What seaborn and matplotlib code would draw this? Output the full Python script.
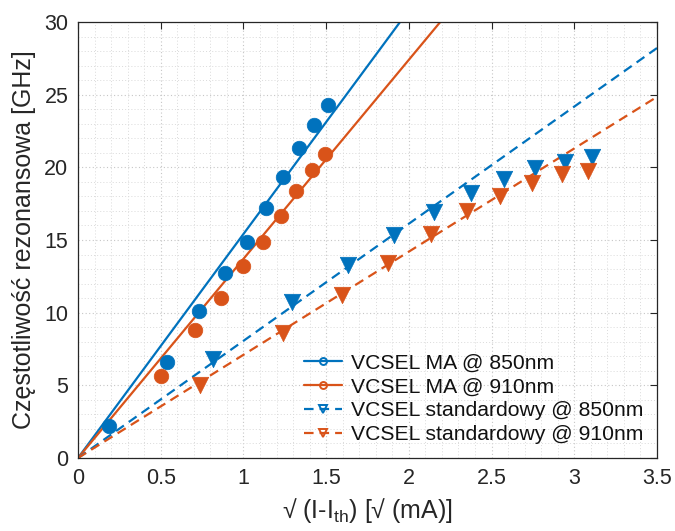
import numpy as np
import pandas as pd
import matplotlib
matplotlib.use("Agg")
import matplotlib.pyplot as plt
from matplotlib.lines import Line2D
from matplotlib.ticker import MultipleLocator
import seaborn as sns

# --- data ---
ma850_x = [0.19, 0.54, 0.73, 0.89, 1.02, 1.135, 1.24, 1.334, 1.427, 1.51]
ma850_y = [2.2, 6.63, 10.1, 12.75, 14.89, 17.2, 19.36, 21.34, 22.9, 24.3]
ma910_x = [0.50, 0.705, 0.866, 1.00, 1.12, 1.227, 1.32, 1.415, 1.495]
ma910_y = [5.67, 8.81, 11.03, 13.21, 14.87, 16.68, 18.4, 19.8, 20.9]
st850_x = [0.814, 1.292, 1.634, 1.913, 2.154, 2.376, 2.578, 2.763, 2.944, 3.106]
st850_y = [6.81, 10.72, 13.28, 15.35, 16.95, 18.22, 19.18, 19.94, 20.4, 20.74]
st910_x = [0.738, 1.241, 1.594, 1.876, 2.132, 2.35, 2.551, 2.743, 2.924, 3.085]
st910_y = [5.02, 8.62, 11.22, 13.44, 15.42, 17.02, 18.03, 18.95, 19.52, 19.75]

# linear fits through origin (slopes)
fit_x = [0.0, 3.5]
fit_ma850 = [0.0, 15.41 * 3.5]
fit_ma910 = [0.0, 13.70 * 3.5]
fit_st850 = [0.0, 8.06 * 3.5]
fit_st910 = [0.0, 7.10 * 3.5]

labels = ["VCSEL MA @ 850nm", "VCSEL MA @ 910nm",
          "VCSEL standardowy @ 850nm", "VCSEL standardowy @ 910nm"]
x_ticks = [0, 0.5, 1, 1.5, 2, 2.5, 3, 3.5]
x_ticklabels = ["0", "0.5", "1", "1.5", "2", "2.5", "3", "3.5"]
y_ticks = [0, 5, 10, 15, 20, 25, 30]

BLUE = "#0072BD"
ORANGE = "#D95319"

sns.set_style("white")
plt.rcParams["font.family"] = ["Liberation Sans", "DejaVu Sans"]
plt.rcParams["mathtext.fontset"] = "custom"
plt.rcParams["mathtext.rm"] = "Liberation Sans"
plt.rcParams["mathtext.it"] = "Liberation Sans"

fig = plt.figure(figsize=(6.75, 5.31), dpi=100)
ax = fig.add_axes([78/675, 1 - 458/531, (657-78)/675, (458-22)/531])

# grid
ax.xaxis.set_minor_locator(MultipleLocator(0.1))
ax.yaxis.set_minor_locator(MultipleLocator(1))
ax.grid(True, which="major", color="#c6c6c6", linestyle=(0, (1, 2.2)), linewidth=0.8)
ax.grid(True, which="minor", color="#dadada", linestyle=(0, (1, 2.2)), linewidth=0.7)
ax.set_axisbelow(True)

# fit lines
fits = pd.DataFrame({
    "x": fit_x * 4,
    "y": fit_ma850 + fit_ma910 + fit_st850 + fit_st910,
    "s": [labels[0]]*2 + [labels[1]]*2 + [labels[2]]*2 + [labels[3]]*2,
})
pal = {labels[0]: BLUE, labels[1]: ORANGE, labels[2]: BLUE, labels[3]: ORANGE}
sns.lineplot(data=fits, x="x", y="y", hue="s", style="s", palette=pal,
             dashes={labels[0]: "", labels[1]: "",
                     labels[2]: (4.3, 2.7), labels[3]: (4.3, 2.7)},
             linewidth=1.6, legend=False, ax=ax, zorder=2)

# data points
sns.scatterplot(x=ma850_x, y=ma850_y, color=BLUE, marker="o", s=110,
                edgecolor=BLUE, linewidth=0.5, ax=ax, zorder=3)
sns.scatterplot(x=ma910_x, y=ma910_y, color=ORANGE, marker="o", s=110,
                edgecolor=ORANGE, linewidth=0.5, ax=ax, zorder=3)
sns.scatterplot(x=st850_x, y=st850_y, color=BLUE, marker="v", s=140,
                edgecolor=BLUE, linewidth=0.5, ax=ax, zorder=3)
sns.scatterplot(x=st910_x, y=st910_y, color=ORANGE, marker="v", s=140,
                edgecolor=ORANGE, linewidth=0.5, ax=ax, zorder=3)

ax.set_xlim(0, 3.5)
ax.set_ylim(0, 30)
ax.set_xticks(x_ticks)
ax.set_xticklabels(x_ticklabels)
ax.set_yticks(y_ticks)
ax.tick_params(which="major", direction="in", length=5, width=0.8,
               top=True, right=True, labelsize=15.5, colors="#262626", pad=7)
ax.tick_params(which="minor", length=0, top=True, right=True)
for sp in ax.spines.values():
    sp.set_color("#262626")
    sp.set_linewidth(0.9)
    sp.set_visible(True)

ax.set_xlabel("√ (I-I$_{\\mathrm{th}}$) [√ (mA)]", fontsize=18, color="#262626", labelpad=5)
ax.set_ylabel("Częstotliwość rezonansowa [GHz]", fontsize=18, color="#262626", labelpad=6)

handles = [
    Line2D([], [], color=BLUE, lw=1.6, marker="o", markersize=5, markerfacecolor="none", markeredgewidth=1.4),
    Line2D([], [], color=ORANGE, lw=1.6, marker="o", markersize=5, markerfacecolor="none", markeredgewidth=1.4),
    Line2D([], [], color=BLUE, lw=1.6, ls=(0, (4.3, 2.7)), marker="v", markersize=6, markerfacecolor="none", markeredgewidth=1.4),
    Line2D([], [], color=ORANGE, lw=1.6, ls=(0, (4.3, 2.7)), marker="v", markersize=6, markerfacecolor="none", markeredgewidth=1.4),
]
leg = ax.legend(handles, labels, loc="lower right", bbox_to_anchor=(1.0, 0.0),
                frameon=False, fontsize=15.2, handlelength=1.8, handletextpad=0.4,
                labelspacing=0.23, borderaxespad=0.35, borderpad=0.3)
for t in leg.get_texts():
    t.set_color("#111111")

fig.savefig("out.png", dpi=100)
